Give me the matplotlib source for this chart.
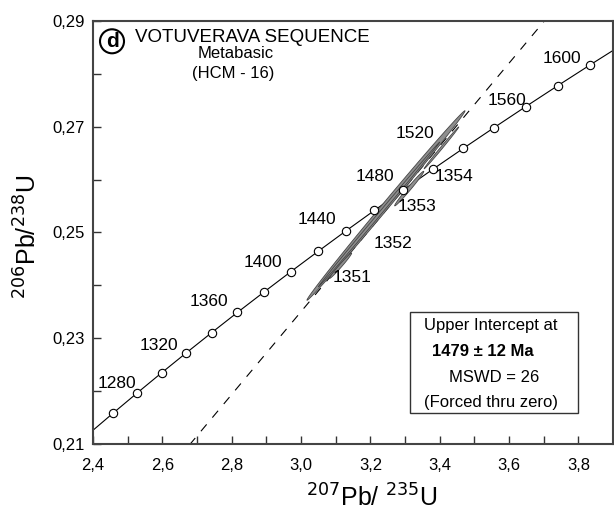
import numpy as np
import matplotlib
matplotlib.use("Agg")
import matplotlib.pyplot as plt
from matplotlib.patches import Rectangle
from matplotlib.ticker import FixedLocator, MultipleLocator, FuncFormatter

plt.rcParams['font.family'] = ['Liberation Sans', 'DejaVu Sans']

# concordia points (Ma, 207Pb/235U, 206Pb/238U), every 20 Ma
ages = [1240, 1260, 1280, 1300, 1320, 1340, 1360, 1380, 1400, 1420, 1440,
        1460, 1480, 1500, 1520, 1540, 1560, 1580, 1600, 1620]
pb207_u235 = [2.3913, 2.4588, 2.5276, 2.5977, 2.6693, 2.7423, 2.8167, 2.8927,
              2.9701, 3.0491, 3.1296, 3.2118, 3.2955, 3.3810, 3.4681, 3.5570,
              3.6477, 3.7401, 3.8344, 3.9306]
pb206_u238 = [0.21210, 0.21587, 0.21965, 0.22344, 0.22724, 0.23105, 0.23488,
              0.23871, 0.24256, 0.24642, 0.25030, 0.25418, 0.25808, 0.26199,
              0.26591, 0.26984, 0.27379, 0.27775, 0.28172, 0.28570]
marked_ages = [1260, 1280, 1300, 1320, 1340, 1360, 1380, 1400, 1420, 1440,
               1460, 1480, 1500, 1520, 1540, 1560, 1580, 1600]
labelled_ages = [1280, 1320, 1360, 1400, 1440, 1480, 1520, 1560, 1600]
age_label_pos = [(2.468, 0.2215), (2.589, 0.2287), (2.734, 0.2369),
                 (2.890, 0.2444), (3.046, 0.2525), (3.213, 0.2605),
                 (3.329, 0.2687), (3.594, 0.2750), (3.752, 0.2829)]

# discordia forced through zero, upper intercept 1479 Ma
disc_slope = 0.07834
disc_x = [0.0, 4.0]

# analysis ellipses: centre x, centre y, half-length (x), slope, half-thickness (y)
ell_cx = [3.245, 3.225, 3.114, 3.312, 3.405]
ell_cy = [0.2551, 0.2534, 0.2437, 0.2583, 0.2660]
ell_half = [0.228, 0.175, 0.032, 0.042, 0.050]
ell_slope = [0.0785, 0.0782, 0.0740, 0.0770, 0.0790]
ell_thick = [0.0010, 0.0004, 0.0004, 0.0005, 0.0003]

spot_names = ['1351', '1352', '1353', '1354']
spot_label_pos = [(3.147, 0.2414), (3.265, 0.2480), (3.335, 0.2550), (3.441, 0.2605)]

x_ticks = [2.4, 2.6, 2.8, 3.0, 3.2, 3.4, 3.6, 3.8]
y_ticks = [0.21, 0.23, 0.25, 0.27, 0.29]

fig = plt.figure(figsize=(6.14, 5.12), dpi=100)
ax = fig.add_axes([0.1515, 0.133, 0.847, 0.826])

# concordia
ax.plot(pb207_u235, pb206_u238, color='black', lw=0.8, zorder=2)
mx = [pb207_u235[ages.index(a)] for a in marked_ages]
my = [pb206_u238[ages.index(a)] for a in marked_ages]
ax.plot(mx, my, 'o', ms=6, mfc='white', mec='black', mew=0.8, zorder=4)
for a, (lx, ly) in zip(labelled_ages, age_label_pos):
    ax.text(lx, ly, str(a), fontsize=12.5, ha='center', va='center', zorder=5)

# discordia
ax.plot(disc_x, [disc_slope * v for v in disc_x], color='black', lw=0.8,
        dashes=(8, 8), zorder=1)

# error ellipses
t = np.linspace(0, 2 * np.pi, 200)
for cx, cy, h, s, th in zip(ell_cx, ell_cy, ell_half, ell_slope, ell_thick):
    ex = cx + h * np.cos(t)
    ey = cy + h * s * np.cos(t) + th * np.sin(t)
    ax.fill(ex, ey, facecolor='#8e8e8e', edgecolor='#454545', lw=0.6, zorder=3)

for n, (lx, ly) in zip(spot_names, spot_label_pos):
    ax.text(lx, ly, n, fontsize=12.5, ha='center', va='center', zorder=5)

ax.set_xlim(2.4, 3.9)
ax.set_ylim(0.21, 0.29)
ax.xaxis.set_major_locator(FixedLocator(x_ticks))
ax.xaxis.set_minor_locator(MultipleLocator(0.1))
ax.yaxis.set_major_locator(FixedLocator(y_ticks))
ax.yaxis.set_minor_locator(MultipleLocator(0.01))
ax.xaxis.set_major_formatter(FuncFormatter(lambda v, p: f"{v:.1f}".replace('.', ',')))
ax.yaxis.set_major_formatter(FuncFormatter(lambda v, p: f"{v:.2f}".replace('.', ',')))
ax.tick_params(which='both', direction='in', length=6, width=1, color='#333333',
               labelsize=12)
ax.tick_params(axis='x', pad=10)
ax.tick_params(axis='y', pad=6)
for sp in ax.spines.values():
    sp.set_linewidth(1.5)
    sp.set_color('#444444')

ax.set_xlabel('$^{207}$Pb/ $^{235}$U', fontsize=18)
ax.xaxis.set_label_coords(0.535, -0.095)
ax.set_ylabel('$^{206}$Pb/$^{238}$U', fontsize=18, va='center')
ax.yaxis.set_label_coords(-0.125, 0.49)

# title block
ax.text(0.0365, 0.952, 'd', transform=ax.transAxes, fontsize=15, fontweight='bold',
        ha='center', va='center',
        bbox=dict(boxstyle='circle,pad=0.12', fc='white', ec='black', lw=1.5))
ax.text(0.081, 0.962, 'VOTUVERAVA SEQUENCE', transform=ax.transAxes, fontsize=13.5,
        ha='left', va='center')
ax.text(0.275, 0.924, 'Metabasic', transform=ax.transAxes, fontsize=12,
        ha='center', va='center')
ax.text(0.269, 0.876, '(HCM - 16)', transform=ax.transAxes, fontsize=12,
        ha='center', va='center')

# result box
ax.add_patch(Rectangle((0.610, 0.073), 0.323, 0.239, transform=ax.transAxes,
                       fill=True, fc='white', ec='#333333', lw=1, zorder=6))
ax.text(0.765, 0.281, 'Upper Intercept at', transform=ax.transAxes, fontsize=12,
        ha='center', va='center', zorder=7)
ax.text(0.750, 0.2175, '1479 ± 12 Ma', transform=ax.transAxes, fontsize=12,
        fontweight='bold', ha='center', va='center', zorder=7)
ax.text(0.771, 0.156, 'MSWD = 26', transform=ax.transAxes, fontsize=12,
        ha='center', va='center', zorder=7)
ax.text(0.765, 0.097, '(Forced thru zero)', transform=ax.transAxes, fontsize=12,
        ha='center', va='center', zorder=7)

fig.savefig('out.png', dpi=100)
